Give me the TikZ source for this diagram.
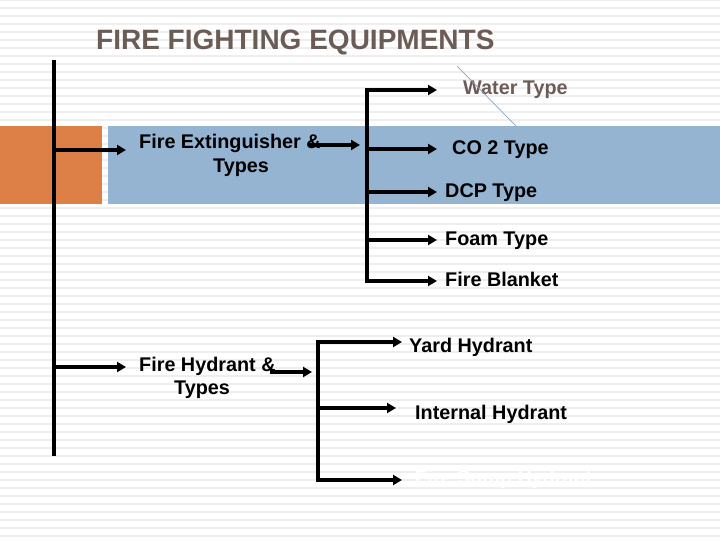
\documentclass[tikz,border=0pt]{standalone}
\usepackage{fontspec}
\setmainfont{Liberation Sans}
\usetikzlibrary{arrows.meta}
\definecolor{stripe}{RGB}{238,238,238}
\definecolor{band}{RGB}{148,180,210}
\definecolor{orng}{RGB}{221,128,71}
\definecolor{titlec}{RGB}{108,92,86}
\definecolor{diag}{RGB}{140,165,190}
\begin{document}
\begin{tikzpicture}[x=1pt,y=-1pt,
  conn/.style={line width=3.2pt,line cap=rect},
  arr/.style={line width=3.2pt,-{Triangle[length=9pt,width=10pt]}},
  lbl/.style={font=\fontsize{19.8}{24}\selectfont\bfseries,inner sep=0pt,anchor=base west},
]
\useasboundingbox (0,0) rectangle (720,540);
\fill[white] (0,0) rectangle (720,540);
\foreach \k in {0,...,67} \fill[stripe] (0,8*\k-1) rectangle (720,8*\k+1);
\fill[orng] (0,126) rectangle (102,204);
\fill[band] (108,126) rectangle (720,204);

\node[font=\fontsize{28}{32}\selectfont\bfseries,text=titlec,anchor=base west,inner sep=0pt] (title) at (96,50) {FIRE FIGHTING EQUIPMENTS};

% main spine
\coordinate (mtop) at (54,60);
\coordinate (mbot) at (54,456);
\draw[line width=3.2pt] (mtop) -- (mbot);
\coordinate (m1) at (54,150);
\coordinate (e1) at (126,150);
\draw[arr] (m1) -- (e1);
\coordinate (m2) at (54,367);
\coordinate (e2) at (126,367);
\draw[arr] (m2) -- (e2);

% extinguisher group
\node[lbl] (ext) at (139,149) {Fire Extinguisher \&};
\node[lbl] (ext2) at (213,173) {Types};
\coordinate (x1) at (308,145);
\coordinate (x2) at (360,145);
\draw[arr] (x1) -- (x2);
\coordinate (vt) at (367,90);
\coordinate (vb) at (367,281);
\draw[conn] (vt) -- (vb);
\foreach \y/\n in {90/a,149/b,192/c,240/d,281/e}{
  \coordinate (s\n) at (367,\y);
  \coordinate (t\n) at (437,\y);
  \draw[arr] (s\n) -- (t\n);
}
\node[lbl,text=titlec] (water) at (463,95) {Water Type};
\node[lbl] (co2) at (452,155) {CO 2 Type};
\node[lbl] (dcp) at (445,197) {DCP Type};
\node[lbl] (foam) at (445,245) {Foam Type};
\node[lbl] (blanket) at (445,286) {Fire Blanket};
\coordinate (d1) at (457,66);
\coordinate (d2) at (516,126);
\draw[diag,line width=0.7pt] (d1) -- (d2);

% hydrant group
\node[lbl] (hyd) at (139,371) {Fire Hydrant \&};
\node[lbl] (hyd2) at (174,394) {Types};
\coordinate (h1) at (270,372);
\coordinate (h2) at (312,372);
\draw[arr] (h1) -- (h2);
\coordinate (ht) at (318,342);
\coordinate (hb) at (318,480);
\draw[conn] (ht) -- (hb);
\coordinate (ya) at (318,342);
\coordinate (yb) at (402,342);
\draw[arr] (ya) -- (yb);
\coordinate (ia) at (318,408);
\coordinate (ib) at (396,408);
\draw[arr] (ia) -- (ib);
\coordinate (wa) at (318,480);
\coordinate (wb) at (402,480);
\draw[arr] (wa) -- (wb);
\node[lbl] (yard) at (409,352) {Yard Hydrant};
\node[lbl] (internal) at (415,419) {Internal Hydrant};
\node[lbl,text=white] (third) at (415,484) {Fire Sump Hydrant};
\end{tikzpicture}
\end{document}
